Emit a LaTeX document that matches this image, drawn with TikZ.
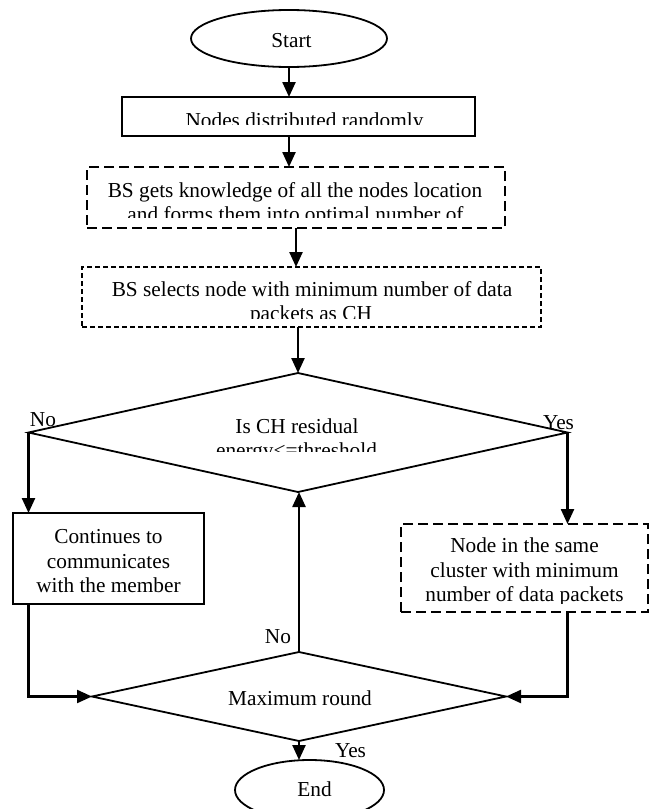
\documentclass[tikz,border=0pt]{standalone}
\usepackage{fontspec}
\setmainfont{Liberation Serif}
\usetikzlibrary{shapes.geometric,arrows.meta}
\begin{document}
\begin{tikzpicture}[x=1pt,y=-1pt,
  every node/.style={inner sep=0pt, outer sep=0pt},
  txt/.style={anchor=base, font=\fontsize{21.3}{25}\selectfont},
  arr/.style={line width=2.4pt, -{Triangle[length=15pt,width=13pt]}},
  link/.style={line width=2.2pt, -{Triangle[length=15pt,width=13pt]}},
  oval/.style={ellipse, draw, line width=1.8pt},
  plainbox/.style={rectangle, draw, line width=2pt},
  dashbox/.style={rectangle, draw, line width=2.3pt, dash pattern=on 10pt off 5pt},
  thinbox/.style={rectangle, draw, line width=1.3pt, dash pattern=on 5pt off 3pt},
  decision/.style={diamond, draw, line width=1.8pt},
]
\useasboundingbox (0,0) rectangle (651,809);
\clip (0,0) rectangle (651,809);

% shapes
\node[oval, minimum width=196pt, minimum height=57pt] (start) at (289,38.5) {};
\node[plainbox, minimum width=353pt, minimum height=39pt] (box1) at (298.5,116.5) {};
\node[dashbox, minimum width=418pt, minimum height=61pt] (box2) at (296,197.5) {};
\node[thinbox, minimum width=459pt, minimum height=60pt] (box3) at (311.5,297) {};
\node[decision, minimum width=539pt, minimum height=119pt] (d1) at (298,432.5) {};
\node[plainbox, minimum width=191pt, minimum height=91pt] (cont) at (108.5,558.5) {};
\node[dashbox, minimum width=247pt, minimum height=88pt] (nb) at (524.5,568) {};
\node[decision, minimum width=414pt, minimum height=89pt] (d2) at (299,696.5) {};
\node[oval, minimum width=149pt, minimum height=60pt] (end) at (309.5,790) {};

% texts
\node[txt] (tstart) at (291.5,47) {Start};
\begin{scope}
  \clip (122,97) rectangle (475,124.5);
  \node[txt] (t1) at (304.5,127) {Nodes distributed randomly};
\end{scope}
\begin{scope}
  \clip (87,167) rectangle (505,217);
  \node[txt] (t2a) at (295,197) {BS gets knowledge of all the nodes location};
  \node[txt] (t2b) at (295.5,221) {and forms them into optimal number of};
\end{scope}
\begin{scope}
  \clip (82,267) rectangle (541,318);
  \node[txt] (t3a) at (312,296) {BS selects node with minimum number of data};
  \node[txt] (t3b) at (311,320) {packets as CH};
\end{scope}
\begin{scope}
  \clip (100,380) rectangle (500,451.5);
  \node[txt] (t4a) at (297,433) {Is CH residual};
  \node[txt] (t4b) at (296.5,457) {energy<=threshold};
\end{scope}
\node[txt] (t5a) at (108.5,543) {Continues to};
\node[txt] (t5b) at (108.5,568) {communicates};
\node[txt] (t5c) at (108.5,592) {with the member};
\begin{scope}
  \clip (401,524) rectangle (648,603);
  \node[txt] (t6a) at (524.5,552) {Node in the same};
  \node[txt] (t6b) at (524.5,577) {cluster with minimum};
  \node[txt] (t6c) at (524.5,601) {number of data packets};
\end{scope}
\node[txt] (t7) at (300,705) {Maximum round};
\begin{scope}
  \clip (235,760) rectangle (384,797);
  \node[txt] (t8) at (314.5,796) {End};
\end{scope}

% labels
\node[txt, anchor=base west] (lno1) at (30,426) {No};
\node[txt, anchor=base west] (lyes1) at (543,429) {Yes};
\node[txt, anchor=base east] (lno2) at (291,643) {No};
\node[txt, anchor=base west] (lyes2) at (335,757) {Yes};

% connectors
\draw[arr] (start.south) -- (start.south |- box1.north);
\draw[arr] (box1.south -| start.south) -- (box2.north -| start.south);
\draw[arr] (box2.south) -- (box2.south |- box3.north);
\draw[arr] (box3.south -| d1.north) -- (d1.north);
\draw[arr] (d1.west) -- (d1.west |- cont.north);
\draw[arr] (d1.east) -- (d1.east |- nb.north);
\draw[link] (cont.south -| d1.west) |- (d2.west);
\draw[link] (nb.south -| d1.east) |- (d2.east);
\draw[arr] (d2.north) -- (d2.north |- d1.south);
\draw[arr] (d2.south) -- (d2.south |- end.north);
\end{tikzpicture}
\end{document}
